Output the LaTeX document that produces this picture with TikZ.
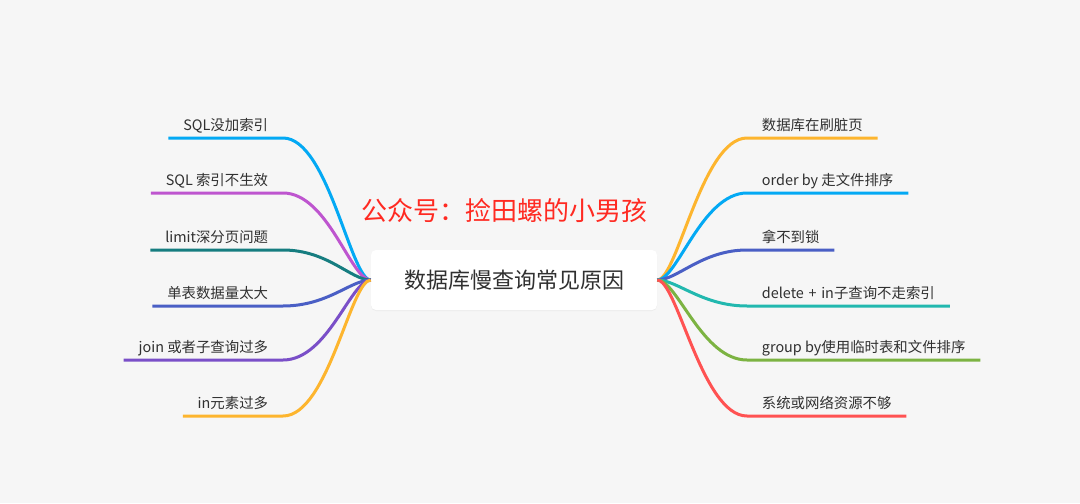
\documentclass[tikz,border=0pt]{standalone}
\usepackage{fontspec}
\setmainfont{Noto Sans CJK SC}
\usepackage{tikz}
\usetikzlibrary{positioning,shadows}
\definecolor{fondo}{HTML}{F6F6F6}
\definecolor{texto}{HTML}{303030}
\definecolor{rojotit}{HTML}{FF2A22}
\definecolor{rcian}{HTML}{03A9F4}
\definecolor{rmorado}{HTML}{BE55CF}
\definecolor{rpetroleo}{HTML}{167D80}
\definecolor{rindigo}{HTML}{4A5FC5}
\definecolor{rvioleta}{HTML}{7A4FC8}
\definecolor{rambar}{HTML}{FDB52E}
\definecolor{rturquesa}{HTML}{22B8AF}
\definecolor{rverde}{HTML}{7CB342}
\definecolor{rrojo}{HTML}{FF5252}
\tikzset{
  raiz/.style   = {fill=white, rounded corners=3.75pt, minimum width=214.5pt,
                   minimum height=45pt, text=texto,
                   font=\fontsize{16.5}{20}\selectfont,
                   drop shadow={shadow xshift=0pt, shadow yshift=-0.75pt,
                                opacity=0.08}},
  rama/.style   = {font=\fontsize{10.8}{12}\selectfont, text=texto,
                   inner xsep=11pt, inner ysep=0pt,
                   text height=8pt, text depth=5.5pt},
  titulo/.style = {font=\fontsize{19.5}{22}\selectfont, text=rojotit},
  linea/.style  = {line width=2.25pt},
}

\begin{document}
\begin{tikzpicture}[x=0.75pt, y=-0.75pt]
  \fill[fondo] (0,0) rectangle (1080,503);
  \node[raiz] (centro) at (514,280) {数据库慢查询常见原因};
  \node[titulo] (titulo) at (504,211) {公众号：捡田螺的小男孩};
  % izquierda
  \node[rama, anchor=south east] (sinindice)   at (283,138) {SQL没加索引};
  \node[rama, anchor=south east] (indicefalla) at (283,193) {SQL 索引不生效};
  \node[rama, anchor=south east] (limite)      at (283,250) {limit深分页问题};
  \node[rama, anchor=south east] (tabla)       at (283,306) {单表数据量太大};
  \node[rama, anchor=south east] (subconsulta) at (283,360) {join 或者子查询过多};
  \node[rama, anchor=south east] (elemin)      at (283,416) {in元素过多};
  % derecha
  \node[rama, anchor=south west] (sucias)   at (747,138) {数据库在刷脏页};
  \node[rama, anchor=south west] (orden)    at (747,193) {order by 走文件排序};
  \node[rama, anchor=south west] (bloqueo)  at (747,250) {拿不到锁};
  \node[rama, anchor=south west] (borrar)   at (747,306) {delete\hspace{0.1em} + \hspace{0.1em}in子查询不走索引};
  \node[rama, anchor=south west] (grupo)    at (747,360) {group by使用临时表和文件排序};
  \node[rama, anchor=south west] (recursos) at (747,416) {系统或网络资源不够};

  \draw[linea, rcian] (centro.west) .. controls +(-20,0) and +(45,0) .. (sinindice.south east) -- (sinindice.south west);
  \draw[linea, rmorado] (centro.west) .. controls +(-20,0) and +(45,0) .. (indicefalla.south east) -- (indicefalla.south west);
  \draw[linea, rpetroleo] (centro.west) .. controls +(-20,0) and +(45,0) .. (limite.south east) -- (limite.south west);
  \draw[linea, rindigo] (centro.west) .. controls +(-20,0) and +(45,0) .. (tabla.south east) -- (tabla.south west);
  \draw[linea, rvioleta] (centro.west) .. controls +(-20,0) and +(45,0) .. (subconsulta.south east) -- (subconsulta.south west);
  \draw[linea, rambar] (centro.west) .. controls +(-20,0) and +(45,0) .. (elemin.south east) -- (elemin.south west);

  \draw[linea, rambar] (centro.east) .. controls +(20,0) and +(-45,0) .. (sucias.south west) -- (sucias.south east);
  \draw[linea, rcian] (centro.east) .. controls +(20,0) and +(-45,0) .. (orden.south west) -- (orden.south east);
  \draw[linea, rindigo] (centro.east) .. controls +(20,0) and +(-45,0) .. (bloqueo.south west) -- (bloqueo.south east);
  \draw[linea, rturquesa] (centro.east) .. controls +(20,0) and +(-45,0) .. (borrar.south west) -- (borrar.south east);
  \draw[linea, rverde] (centro.east) .. controls +(20,0) and +(-45,0) .. (grupo.south west) -- (grupo.south east);
  \draw[linea, rrojo] (centro.east) .. controls +(20,0) and +(-45,0) .. (recursos.south west) -- (recursos.south east);
\end{tikzpicture}
\end{document}
